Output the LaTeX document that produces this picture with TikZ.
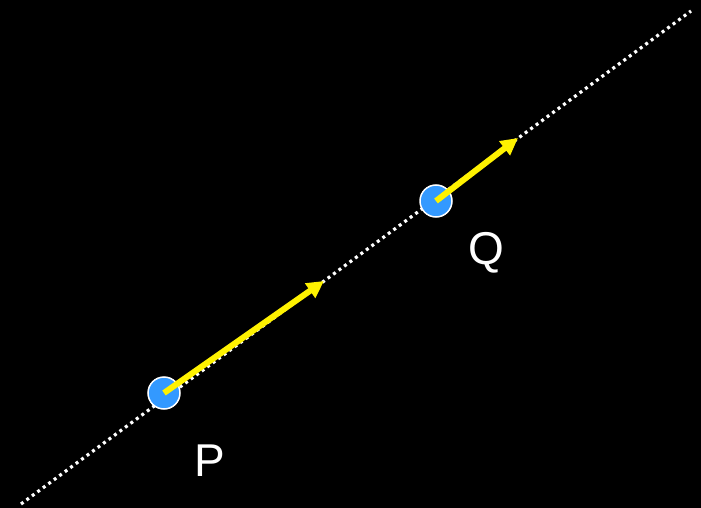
\documentclass[tikz,border=0pt]{standalone}
\usepackage{fontspec}
\setmainfont{Liberation Sans}
\usetikzlibrary{arrows.meta,calc,positioning}
\definecolor{ptblue}{HTML}{3399FF}
\tikzset{
  pt/.style={circle,fill=ptblue,draw=white,line width=1.5pt,minimum size=32pt,inner sep=0pt},
  vec/.style={yellow,line width=6pt,-{Triangle[length=17pt,width=17pt]}},
  lbl/.style={white,font=\fontsize{46}{46}\selectfont}
}
\begin{document}
\begin{tikzpicture}[x=1pt,y=-1pt]
        \useasboundingbox[fill=black] (0,0) rectangle (701,508);
        % the line
        \coordinate (lo) at (21,504);
        \coordinate (hi) at (691,11);
        \draw[white,line width=3.2pt,dash pattern=on 3pt off 3.8pt] (lo) -- (hi);
        % points and vectors
        \node[pt] (P) at (164,393) {};
        \node[pt] (Q) at (436,201) {};
        \coordinate (pv) at (324,281);
        \coordinate (qv) at (518,138);
        \draw[vec] (P.center) -- (pv);
        \draw[vec] (Q.center) -- (qv);
        \node[lbl] (Plab) at (210,461) {P};
        \node[lbl] (Qlab) at (486,253) {Q};
      \end{tikzpicture}
\end{document}
